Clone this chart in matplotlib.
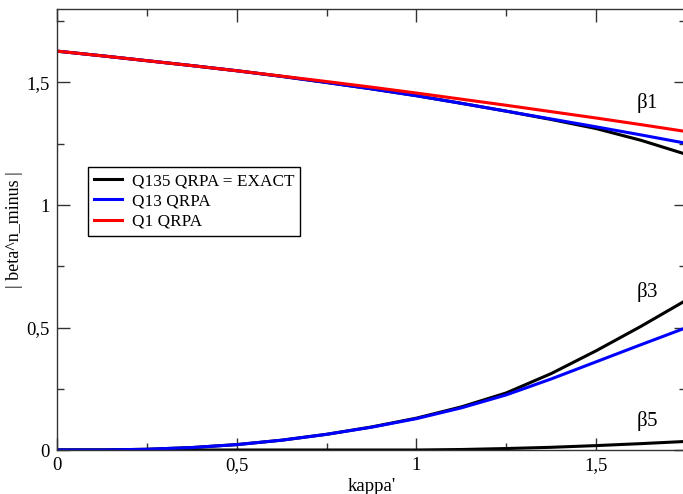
import numpy as np
import matplotlib
matplotlib.use("Agg")
from matplotlib import pyplot as plt
from matplotlib.ticker import MultipleLocator, FuncFormatter

# kappa' grid
kappa = [0.0, 0.125, 0.25, 0.375, 0.5, 0.625, 0.75, 0.875,
         1.0, 1.125, 1.25, 1.375, 1.5, 1.625, 1.75]

# beta1
b1_q1 = [1.628, 1.609, 1.589, 1.569, 1.548, 1.526, 1.504, 1.481,
         1.457, 1.432, 1.407, 1.381, 1.355, 1.328, 1.300]
b1_q13 = [1.628, 1.609, 1.589, 1.569, 1.548, 1.525, 1.500, 1.474,
          1.446, 1.415, 1.383, 1.351, 1.319, 1.286, 1.252]
b1_q135 = [1.628, 1.609, 1.589, 1.569, 1.548, 1.525, 1.500, 1.474,
           1.446, 1.415, 1.383, 1.349, 1.312, 1.264, 1.207]

# beta3
b3_q135 = [0.000, 0.000, 0.003, 0.010, 0.022, 0.040, 0.064, 0.094,
           0.130, 0.176, 0.233, 0.312, 0.405, 0.505, 0.611]
b3_q13 = [0.000, 0.000, 0.003, 0.010, 0.022, 0.040, 0.064, 0.093,
          0.128, 0.172, 0.225, 0.290, 0.360, 0.430, 0.499]

# beta5
b5_q135 = [0.000, 0.000, 0.000, 0.000, 0.000, 0.000, 0.000, 0.000,
           0.000, 0.002, 0.006, 0.011, 0.018, 0.026, 0.035]

plt.rcParams['font.family'] = ['Liberation Serif', 'DejaVu Serif']

fig = plt.figure(figsize=(6.83, 4.94), dpi=100)
ax = fig.add_axes([57 / 683, 44 / 494, 629 / 683, 441 / 494])

lw = 2.2
ax.plot(kappa, b5_q135, color='black', lw=lw)
ax.plot(kappa, b3_q135, color='black', lw=lw)
ax.plot(kappa, b1_q135, color='black', lw=lw, label='Q135 QRPA = EXACT')
ax.plot(kappa, b3_q13, color='blue', lw=lw)
ax.plot(kappa, b1_q13, color='blue', lw=lw, label='Q13 QRPA')
ax.plot(kappa, b1_q1, color='red', lw=lw, label='Q1 QRPA')

ax.text(1.641, 1.415, r'$\mathregular{\beta}$1', fontsize=15, ha='center', va='center')
ax.text(1.641, 0.644, r'$\mathregular{\beta}$3', fontsize=15, ha='center', va='center')
ax.text(1.641, 0.118, r'$\mathregular{\beta}$5', fontsize=15, ha='center', va='center')

ax.set_xlim(0, 1.75)
ax.set_ylim(0, 1.8)
ax.xaxis.set_major_locator(MultipleLocator(0.5))
ax.xaxis.set_minor_locator(MultipleLocator(0.25))
ax.yaxis.set_major_locator(MultipleLocator(0.5))
ax.yaxis.set_minor_locator(MultipleLocator(0.25))
fmt = FuncFormatter(lambda v, p: ('%g' % v).replace('.', ','))
ax.xaxis.set_major_formatter(fmt)
ax.yaxis.set_major_formatter(fmt)

ax.tick_params(which='both', direction='in', top=True, right=True,
               width=1, color='#333333', labelsize=13.5)
ax.tick_params(which='major', length=9, pad=5)
ax.tick_params(which='minor', length=4.8)
for s in ax.spines.values():
    s.set_linewidth(1)
    s.set_color('#333333')

ax.set_xlabel("kappa'", fontsize=13.5, labelpad=3)
ax.set_ylabel("| beta^n_minus |", fontsize=13, labelpad=3)

leg = ax.legend(loc='upper left', bbox_to_anchor=(88 / 683, 1 - 167 / 494),
                bbox_transform=fig.transFigure, fontsize=12.4, fancybox=False,
                framealpha=1, edgecolor='black', handlelength=1.6,
                borderpad=0.35, labelspacing=0.25, handletextpad=0.6,
                borderaxespad=0)
leg.get_frame().set_linewidth(1)

fig.savefig('out.png', dpi=100)
